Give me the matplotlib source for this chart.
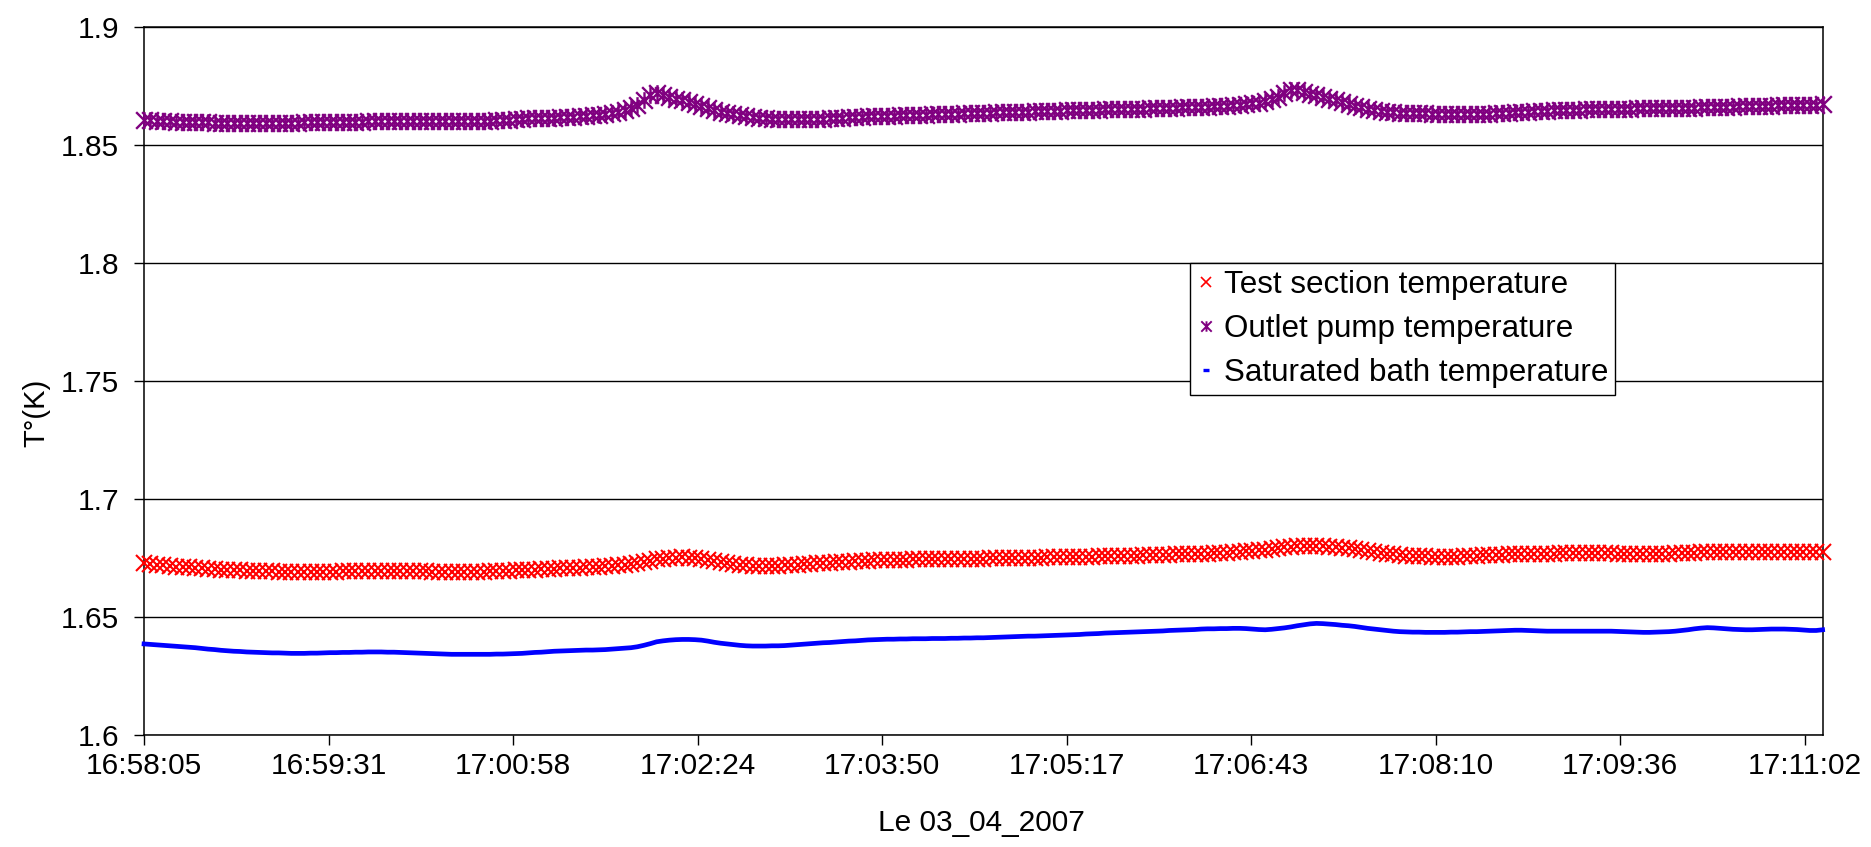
import numpy as np
import matplotlib
matplotlib.use("Agg")
import matplotlib.pyplot as plt
from matplotlib.path import Path
from matplotlib.lines import Line2D

plt.rcParams['font.family'] = ['Liberation Sans', 'DejaVu Sans']

# sampling times in seconds after 16:58:05, one reading every 3 s
t = np.arange(0, 787, 3)

# outlet pump temperature (K)
outlet_pump = [
    1.8606, 1.8605, 1.8603, 1.8602, 1.8601, 1.8599, 1.8599, 1.8598, 1.8597, 1.8597,
    1.8596, 1.8595, 1.8595, 1.8594, 1.8594, 1.8593, 1.8593, 1.8592, 1.8592, 1.8593,
    1.8593, 1.8594, 1.8594, 1.8595, 1.8595, 1.8596, 1.8596, 1.8596, 1.8597, 1.8597,
    1.8597, 1.8598, 1.8598, 1.8599, 1.8599, 1.8600, 1.8600, 1.8601, 1.8601, 1.8602,
    1.8602, 1.8603, 1.8603, 1.8603, 1.8603, 1.8603, 1.8603, 1.8603, 1.8603, 1.8602,
    1.8602, 1.8601, 1.8601, 1.8602, 1.8603, 1.8604, 1.8606, 1.8608, 1.8610, 1.8612,
    1.8613, 1.8614, 1.8614, 1.8615, 1.8616, 1.8617, 1.8618, 1.8620, 1.8622, 1.8624,
    1.8626, 1.8628, 1.8631, 1.8635, 1.8640, 1.8648, 1.8658, 1.8670, 1.8690, 1.8712,
    1.8720, 1.8712, 1.8703, 1.8696, 1.8690, 1.8683, 1.8675, 1.8666, 1.8657, 1.8649,
    1.8642, 1.8636, 1.8631, 1.8626, 1.8621, 1.8617, 1.8615, 1.8613, 1.8612, 1.8611,
    1.8610, 1.8610, 1.8609, 1.8609, 1.8610, 1.8611, 1.8612, 1.8613, 1.8614, 1.8616,
    1.8617, 1.8618, 1.8620, 1.8621, 1.8622, 1.8623, 1.8624, 1.8625, 1.8626, 1.8626,
    1.8627, 1.8628, 1.8629, 1.8630, 1.8630, 1.8631, 1.8632, 1.8633, 1.8634, 1.8635,
    1.8636, 1.8636, 1.8637, 1.8638, 1.8639, 1.8640, 1.8640, 1.8641, 1.8642, 1.8643,
    1.8644, 1.8645, 1.8645, 1.8646, 1.8647, 1.8648, 1.8648, 1.8649, 1.8649, 1.8650,
    1.8651, 1.8651, 1.8652, 1.8652, 1.8653, 1.8653, 1.8654, 1.8655, 1.8655, 1.8656,
    1.8657, 1.8658, 1.8659, 1.8660, 1.8661, 1.8662, 1.8663, 1.8664, 1.8665, 1.8666,
    1.8668, 1.8670, 1.8673, 1.8676, 1.8680, 1.8685, 1.8693, 1.8705, 1.8720, 1.8735,
    1.8733, 1.8725, 1.8718, 1.8710, 1.8703, 1.8697, 1.8690, 1.8684, 1.8675, 1.8667,
    1.8659, 1.8652, 1.8647, 1.8643, 1.8640, 1.8638, 1.8637, 1.8636, 1.8635, 1.8634,
    1.8634, 1.8633, 1.8633, 1.8632, 1.8632, 1.8631, 1.8631, 1.8631, 1.8632, 1.8632,
    1.8633, 1.8634, 1.8635, 1.8637, 1.8638, 1.8640, 1.8641, 1.8643, 1.8645, 1.8646,
    1.8647, 1.8648, 1.8649, 1.8650, 1.8650, 1.8651, 1.8652, 1.8652, 1.8653, 1.8653,
    1.8654, 1.8654, 1.8654, 1.8655, 1.8655, 1.8655, 1.8656, 1.8656, 1.8656, 1.8657,
    1.8657, 1.8658, 1.8658, 1.8659, 1.8660, 1.8660, 1.8661, 1.8662, 1.8663, 1.8664,
    1.8664, 1.8665, 1.8666, 1.8666, 1.8667, 1.8668, 1.8668, 1.8669, 1.8669, 1.8670,
    1.8671, 1.8671, 1.8672,
]

# test section temperature (K)
test_section = [
    1.6727, 1.6724, 1.6721, 1.6719, 1.6716, 1.6714, 1.6712, 1.6710, 1.6708, 1.6706,
    1.6704, 1.6703, 1.6701, 1.6700, 1.6699, 1.6698, 1.6697, 1.6696, 1.6695, 1.6694,
    1.6693, 1.6692, 1.6691, 1.6690, 1.6689, 1.6689, 1.6690, 1.6690, 1.6691, 1.6692,
    1.6692, 1.6693, 1.6694, 1.6694, 1.6695, 1.6695, 1.6695, 1.6696, 1.6696, 1.6696,
    1.6696, 1.6696, 1.6695, 1.6694, 1.6693, 1.6692, 1.6692, 1.6692, 1.6692, 1.6692,
    1.6692, 1.6692, 1.6692, 1.6692, 1.6693, 1.6694, 1.6695, 1.6696, 1.6698, 1.6699,
    1.6700, 1.6701, 1.6702, 1.6703, 1.6704, 1.6706, 1.6707, 1.6708, 1.6709, 1.6710,
    1.6712, 1.6713, 1.6715, 1.6717, 1.6719, 1.6721, 1.6724, 1.6727, 1.6732, 1.6738,
    1.6744, 1.6747, 1.6750, 1.6752, 1.6753, 1.6752, 1.6749, 1.6746, 1.6742, 1.6738,
    1.6734, 1.6730, 1.6726, 1.6722, 1.6720, 1.6718, 1.6717, 1.6716, 1.6716, 1.6717,
    1.6719, 1.6720, 1.6722, 1.6723, 1.6725, 1.6727, 1.6729, 1.6730, 1.6732, 1.6733,
    1.6735, 1.6736, 1.6738, 1.6739, 1.6740, 1.6741, 1.6742, 1.6742, 1.6743, 1.6743,
    1.6744, 1.6744, 1.6744, 1.6745, 1.6745, 1.6745, 1.6746, 1.6746, 1.6746, 1.6747,
    1.6747, 1.6747, 1.6748, 1.6748, 1.6749, 1.6749, 1.6750, 1.6750, 1.6751, 1.6751,
    1.6752, 1.6753, 1.6753, 1.6754, 1.6754, 1.6755, 1.6755, 1.6756, 1.6756, 1.6757,
    1.6758, 1.6758, 1.6759, 1.6759, 1.6760, 1.6760, 1.6761, 1.6762, 1.6762, 1.6763,
    1.6764, 1.6765, 1.6765, 1.6766, 1.6767, 1.6768, 1.6769, 1.6770, 1.6771, 1.6772,
    1.6774, 1.6776, 1.6778, 1.6780, 1.6783, 1.6786, 1.6789, 1.6792, 1.6795, 1.6797,
    1.6799, 1.6800, 1.6801, 1.6801, 1.6800, 1.6798, 1.6796, 1.6794, 1.6791, 1.6788,
    1.6784, 1.6780, 1.6776, 1.6772, 1.6768, 1.6765, 1.6762, 1.6760, 1.6759, 1.6758,
    1.6757, 1.6756, 1.6755, 1.6755, 1.6755, 1.6756, 1.6757, 1.6758, 1.6759, 1.6761,
    1.6762, 1.6763, 1.6764, 1.6765, 1.6765, 1.6766, 1.6767, 1.6767, 1.6768, 1.6769,
    1.6769, 1.6770, 1.6770, 1.6770, 1.6770, 1.6770, 1.6770, 1.6770, 1.6770, 1.6770,
    1.6769, 1.6769, 1.6768, 1.6768, 1.6767, 1.6767, 1.6767, 1.6768, 1.6769, 1.6770,
    1.6771, 1.6772, 1.6773, 1.6774, 1.6774, 1.6775, 1.6776, 1.6776, 1.6777, 1.6777,
    1.6777, 1.6777, 1.6777, 1.6777, 1.6777, 1.6777, 1.6777, 1.6777, 1.6777, 1.6777,
    1.6777, 1.6777, 1.6777,
]

# saturated bath temperature (K)
saturated_bath = [
    1.6386, 1.6384, 1.6382, 1.6380, 1.6378, 1.6376, 1.6374, 1.6372, 1.6370, 1.6367,
    1.6364, 1.6362, 1.6359, 1.6357, 1.6355, 1.6354, 1.6352, 1.6351, 1.6350, 1.6349,
    1.6348, 1.6348, 1.6347, 1.6346, 1.6346, 1.6346, 1.6347, 1.6347, 1.6348, 1.6349,
    1.6349, 1.6350, 1.6350, 1.6351, 1.6351, 1.6352, 1.6352, 1.6352, 1.6351, 1.6351,
    1.6350, 1.6349, 1.6348, 1.6347, 1.6346, 1.6345, 1.6344, 1.6343, 1.6342, 1.6342,
    1.6342, 1.6342, 1.6342, 1.6342, 1.6342, 1.6343, 1.6343, 1.6344, 1.6345, 1.6346,
    1.6348, 1.6350, 1.6351, 1.6353, 1.6355, 1.6356, 1.6357, 1.6358, 1.6359, 1.6360,
    1.6360, 1.6361, 1.6362, 1.6364, 1.6366, 1.6368, 1.6370, 1.6374, 1.6380, 1.6387,
    1.6395, 1.6399, 1.6402, 1.6404, 1.6405, 1.6405, 1.6404, 1.6402, 1.6398, 1.6393,
    1.6389, 1.6386, 1.6383, 1.6380, 1.6378, 1.6377, 1.6377, 1.6377, 1.6378, 1.6378,
    1.6379, 1.6381, 1.6383, 1.6385, 1.6387, 1.6389, 1.6391, 1.6392, 1.6394, 1.6396,
    1.6398, 1.6399, 1.6401, 1.6403, 1.6404, 1.6405, 1.6406, 1.6406, 1.6407, 1.6407,
    1.6408, 1.6408, 1.6408, 1.6409, 1.6409, 1.6409, 1.6410, 1.6410, 1.6411, 1.6411,
    1.6412, 1.6412, 1.6413, 1.6414, 1.6415, 1.6416, 1.6417, 1.6418, 1.6419, 1.6419,
    1.6420, 1.6421, 1.6422, 1.6423, 1.6424, 1.6425, 1.6426, 1.6428, 1.6429, 1.6430,
    1.6432, 1.6433, 1.6434, 1.6435, 1.6436, 1.6437, 1.6438, 1.6439, 1.6440, 1.6441,
    1.6443, 1.6444, 1.6445, 1.6446, 1.6447, 1.6449, 1.6450, 1.6450, 1.6451, 1.6451,
    1.6452, 1.6452, 1.6451, 1.6449, 1.6447, 1.6446, 1.6448, 1.6451, 1.6454, 1.6458,
    1.6463, 1.6467, 1.6471, 1.6473, 1.6472, 1.6470, 1.6468, 1.6465, 1.6463, 1.6460,
    1.6456, 1.6452, 1.6449, 1.6446, 1.6443, 1.6440, 1.6438, 1.6437, 1.6436, 1.6436,
    1.6435, 1.6435, 1.6435, 1.6435, 1.6436, 1.6436, 1.6437, 1.6438, 1.6438, 1.6439,
    1.6440, 1.6441, 1.6442, 1.6443, 1.6444, 1.6444, 1.6443, 1.6442, 1.6441, 1.6440,
    1.6440, 1.6440, 1.6440, 1.6440, 1.6440, 1.6440, 1.6440, 1.6440, 1.6440, 1.6440,
    1.6439, 1.6438, 1.6437, 1.6436, 1.6435, 1.6435, 1.6436, 1.6437, 1.6438, 1.6440,
    1.6443, 1.6446, 1.6450, 1.6453, 1.6455, 1.6454, 1.6452, 1.6450, 1.6448, 1.6447,
    1.6446, 1.6446, 1.6447, 1.6448, 1.6449, 1.6449, 1.6449, 1.6448, 1.6447, 1.6445,
    1.6443, 1.6443, 1.6446,
]

# x axis: one major unit = 0.001 day = 86.4 s
tick_step = 86.4
tick_labels = ['16:58:05', '16:59:31', '17:00:58', '17:02:24', '17:03:50',
               '17:05:17', '17:06:43', '17:08:10', '17:09:36', '17:11:02']
y_ticks = [1.6, 1.65, 1.7, 1.75, 1.8, 1.85, 1.9]

# star marker: an x with a vertical bar through it
star = Path([(-1, -1), (1, 1), (-1, 1), (1, -1), (0, -1), (0, 1)],
            [Path.MOVETO, Path.LINETO, Path.MOVETO, Path.LINETO, Path.MOVETO, Path.LINETO])

fig = plt.figure(figsize=(18.71, 8.47), dpi=100)
ax = fig.add_axes([0.0770, 0.1322, 0.8974, 0.8359])

ax.plot(t, test_section, linestyle='None', marker='x', color='#FF0000',
        markersize=11, markeredgewidth=1.5, clip_on=False, zorder=3)
ax.plot(t, outlet_pump, linestyle='None', marker=star, color='#800080',
        markersize=12, markeredgewidth=1.7, clip_on=False, zorder=3)
ax.plot(t, saturated_bath, linestyle='-', color='#0000FF', linewidth=3.4,
        clip_on=False, zorder=3)

ax.set_xlim(0, 9.1 * tick_step)
ax.set_ylim(1.6, 1.9)
ax.set_xticks([i * tick_step for i in range(len(tick_labels))])
ax.set_xticklabels(tick_labels)
ax.set_yticks(y_ticks)
ax.set_yticklabels(['1.6', '1.65', '1.7', '1.75', '1.8', '1.85', '1.9'])

ax.yaxis.grid(True, color='black', linewidth=1.0)
ax.set_axisbelow(True)
for s in ax.spines.values():
    s.set_linewidth(1.1)
    s.set_color('black')
ax.tick_params(axis='both', direction='out', length=7, width=1.0, labelsize=21.5)
ax.tick_params(axis='y', pad=11)
ax.tick_params(axis='x', pad=5)

fig.text(36 / 1871, 1 - 413 / 847, 'T°(K)', rotation=90, ha='center', va='center', fontsize=21)
fig.text(981 / 1871, 1 - 823 / 847, 'Le 03_04_2007', ha='center', va='center', fontsize=21.5)

handles = [
    Line2D([], [], linestyle='None', marker='x', color='#FF0000', markersize=7, markeredgewidth=1.2),
    Line2D([], [], linestyle='None', marker=star, color='#800080', markersize=7.5, markeredgewidth=1.4),
    Line2D([], [], linestyle='None', marker='_', color='#0000FF', markersize=5, markeredgewidth=2.4),
]
labels = ['Test section temperature', 'Outlet pump temperature', 'Saturated bath temperature']
leg = fig.legend(handles, labels, loc='upper left', bbox_to_anchor=(1190 / 1871, 1 - 263 / 847),
                 borderaxespad=0, fontsize=22.6, frameon=True, fancybox=False, framealpha=1,
                 edgecolor='black', handlelength=0.6, handletextpad=0.25, borderpad=0.22,
                 labelspacing=0.45)
leg.get_frame().set_linewidth(1.0)

plt.savefig('out.png', dpi=100)
